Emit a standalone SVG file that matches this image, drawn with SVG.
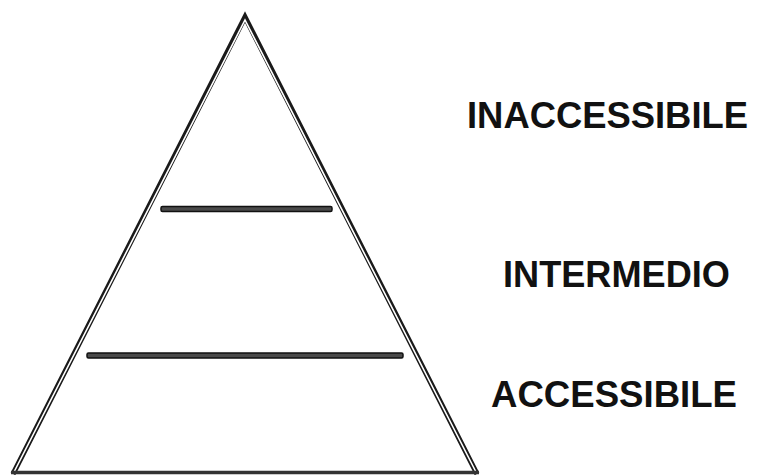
<svg xmlns="http://www.w3.org/2000/svg" width="757" height="475" viewBox="0 0 757 475">
<style>
.outer{fill:none;stroke:#1a1a1a;stroke-width:5.2;stroke-linejoin:miter}
.inner{fill:none;stroke:#ffffff;stroke-width:1.6;stroke-linejoin:miter}
.bar{fill:#4a4a4a;stroke:#111;stroke-width:1.5}
.lbl{font-family:"Liberation Sans",Arial,sans-serif;font-weight:bold;font-size:36px;fill:#111}
</style>
<rect width="757" height="475" fill="#fff"/>
<g id="pyramid">
<path class="outer" d="M13,474 L245,17 L477,474"/>
<path class="inner" d="M13,474 L245,20 L477,474"/>
<line x1="11" y1="472.5" x2="479" y2="472.5" stroke="#333" stroke-width="3.5"/>
</g>
<g id="bar-top"><rect class="bar" x="161" y="206.5" width="171" height="5" rx="1.5"/></g>
<g id="bar-bottom"><rect class="bar" x="87" y="353" width="316" height="5" rx="1.5"/></g>
<g id="label-inaccessibile"><text class="lbl" x="467" y="128" textLength="281" lengthAdjust="spacingAndGlyphs">INACCESSIBILE</text></g>
<g id="label-intermedio"><text class="lbl" x="503" y="287" textLength="227" lengthAdjust="spacingAndGlyphs">INTERMEDIO</text></g>
<g id="label-accessibile"><text class="lbl" x="491" y="407" textLength="246" lengthAdjust="spacingAndGlyphs">ACCESSIBILE</text></g>
</svg>
